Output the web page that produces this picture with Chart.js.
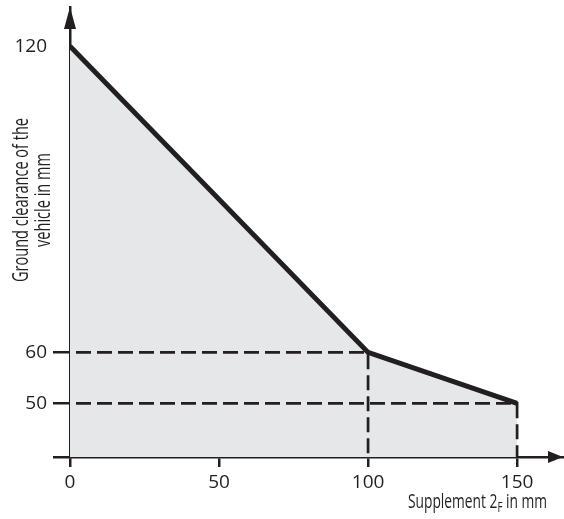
<!DOCTYPE html>
<html><head><meta charset="utf-8">
<script src="https://cdn.jsdelivr.net/npm/chart.js@4"></script>
<style>html,body{margin:0;padding:0;background:#fff}#wrap{width:564px;height:519px}</style>
</head><body><div id="wrap"><canvas id="c" width="564" height="519"></canvas></div>
<script>
// Data
const supplement = [0, 100, 150];
const clearance = [120, 60, 50];
const xTicks = [0, 50, 100, 150];
const yTicks = [50, 60, 120];
const xTitleParts = ['Supplement 2', 'F', ' in mm'];
const yTitleLines = ['Ground clearance of the', 'vehicle in mm'];
const X_MIN = 0, X_MAX = 165.4, Y_MIN = 39.5, Y_MAX = 127.7;

const DARK = '#231f20';
const FILL = '#e6e7e8';

const mainPts = supplement.map((x, i) => ({x, y: clearance[i]}));
const dashA = [{x: supplement[0], y: clearance[1]}, {x: supplement[1], y: clearance[1]}, {x: supplement[1], y: Y_MIN}];
const dashB = [{x: supplement[0], y: clearance[2]}, {x: supplement[2], y: clearance[2]}, {x: supplement[2], y: Y_MIN}];

const decor = {
  id: 'decor',
  afterDraw(chart) {
    const ctx = chart.ctx;
    const xs = chart.scales.x, ys = chart.scales.y;
    const x0 = xs.getPixelForValue(0);
    const yb = ys.getPixelForValue(Y_MIN);
    const yt = ys.getPixelForValue(Y_MAX);
    const xr = xs.getPixelForValue(X_MAX);
    ctx.save();
    ctx.fillStyle = DARK;
    // y arrow
    ctx.beginPath();
    ctx.moveTo(x0, yt);
    ctx.lineTo(x0 - 6, yt + 22);
    ctx.lineTo(x0 + 6, yt + 22);
    ctx.closePath();
    ctx.fill();
    // x arrow
    ctx.beginPath();
    ctx.moveTo(xr, yb);
    ctx.lineTo(xr - 15, yb - 6);
    ctx.lineTo(xr - 15, yb + 6);
    ctx.closePath();
    ctx.fill();

    // x title with subscript
    const big = '20px "Open Sans"', small = '14px "Open Sans"';
    ctx.font = big;
    const w1 = ctx.measureText(xTitleParts[0]).width;
    const w3 = ctx.measureText(xTitleParts[2]).width;
    ctx.font = small;
    const w2 = ctx.measureText(xTitleParts[1]).width;
    const total = w1 + w2 + w3;
    const target = 139, rightX = 547, base = 508;
    const sx = target / total;
    ctx.save();
    ctx.translate(rightX - target, base);
    ctx.scale(sx, 1);
    ctx.textBaseline = 'alphabetic';
    ctx.textAlign = 'left';
    ctx.font = big;
    ctx.fillText(xTitleParts[0], 0, 0);
    ctx.font = small;
    ctx.fillText(xTitleParts[1], w1, 4);
    ctx.font = big;
    ctx.fillText(xTitleParts[2], w1 + w2, 0);
    ctx.restore();

    // y title, rotated
    ctx.font = '21px "Open Sans"';
    const lw = ctx.measureText(yTitleLines[0]).width;
    const sy = 164 / lw;
    const baselines = [28, 50];
    yTitleLines.forEach((t, i) => {
      ctx.save();
      ctx.translate(baselines[i], 200);
      ctx.rotate(-Math.PI / 2);
      ctx.scale(sy, 1);
      ctx.textAlign = 'center';
      ctx.textBaseline = 'alphabetic';
      ctx.fillText(t, 0, 0);
      ctx.restore();
    });
    ctx.restore();
  }
};

new Chart(document.getElementById('c'), {
  type: 'scatter',
  data: {
    datasets: [
      {
        data: mainPts, showLine: true, fill: 'start', backgroundColor: FILL,
        borderColor: DARK, borderWidth: 5, pointRadius: 0, tension: 0,
        borderJoinStyle: 'miter', order: 0
      },
      {
        data: dashA, showLine: true, fill: false, borderColor: DARK, borderWidth: 2.7,
        borderDash: [15, 6], borderDashOffset: -6, pointRadius: 0, order: 1
      },
      {
        data: dashB, showLine: true, fill: false, borderColor: DARK, borderWidth: 2.7,
        borderDash: [15, 6], borderDashOffset: -6, pointRadius: 0, order: 1
      }
    ]
  },
  options: {
    responsive: false,
    animation: false,
    devicePixelRatio: 1,
    layout: {padding: {left: 0, top: 7, right: 1, bottom: 0}},
    plugins: {
      legend: {display: false},
      tooltip: {enabled: false},
      filler: {drawTime: 'beforeDatasetsDraw'}
    },
    scales: {
      x: {
        type: 'linear', min: X_MIN, max: X_MAX,
        afterBuildTicks: s => { s.ticks = xTicks.map(v => ({value: v})); },
        afterFit: s => { s.height = 62; s.paddingLeft = 0; s.paddingRight = 0; s.paddingTop = 0; s.paddingBottom = 0; },
        grid: {drawOnChartArea: false, drawTicks: true, tickLength: 10, lineWidth: 2.5, color: DARK},
        border: {display: true, color: DARK, width: 2.5},
        ticks: {autoSkip: false, maxRotation: 0, padding: 4, color: DARK,
          font: {family: '"Open Sans"', size: 19}}
      },
      y: {
        type: 'linear', min: Y_MIN, max: Y_MAX,
        afterBuildTicks: s => { s.ticks = [Y_MIN, ...yTicks].map(v => ({value: v})); },
        afterFit: s => { s.width = 70; s.paddingTop = 0; s.paddingBottom = 0; s.paddingLeft = 0; s.paddingRight = 0; },
        grid: {drawOnChartArea: false, drawTicks: true, tickLength: 17, lineWidth: 2.5,
          color: c => (c.tick && c.tick.value === yTicks[yTicks.length - 1]) ? 'rgba(0,0,0,0)' : DARK},
        border: {display: true, color: DARK, width: 2.5},
        ticks: {autoSkip: false, padding: 6, color: DARK,
          font: {family: '"Open Sans"', size: 19},
          callback: v => (v === Y_MIN ? '' : String(v))}
      }
    }
  },
  plugins: [decor]
});
</script>
</body></html>
